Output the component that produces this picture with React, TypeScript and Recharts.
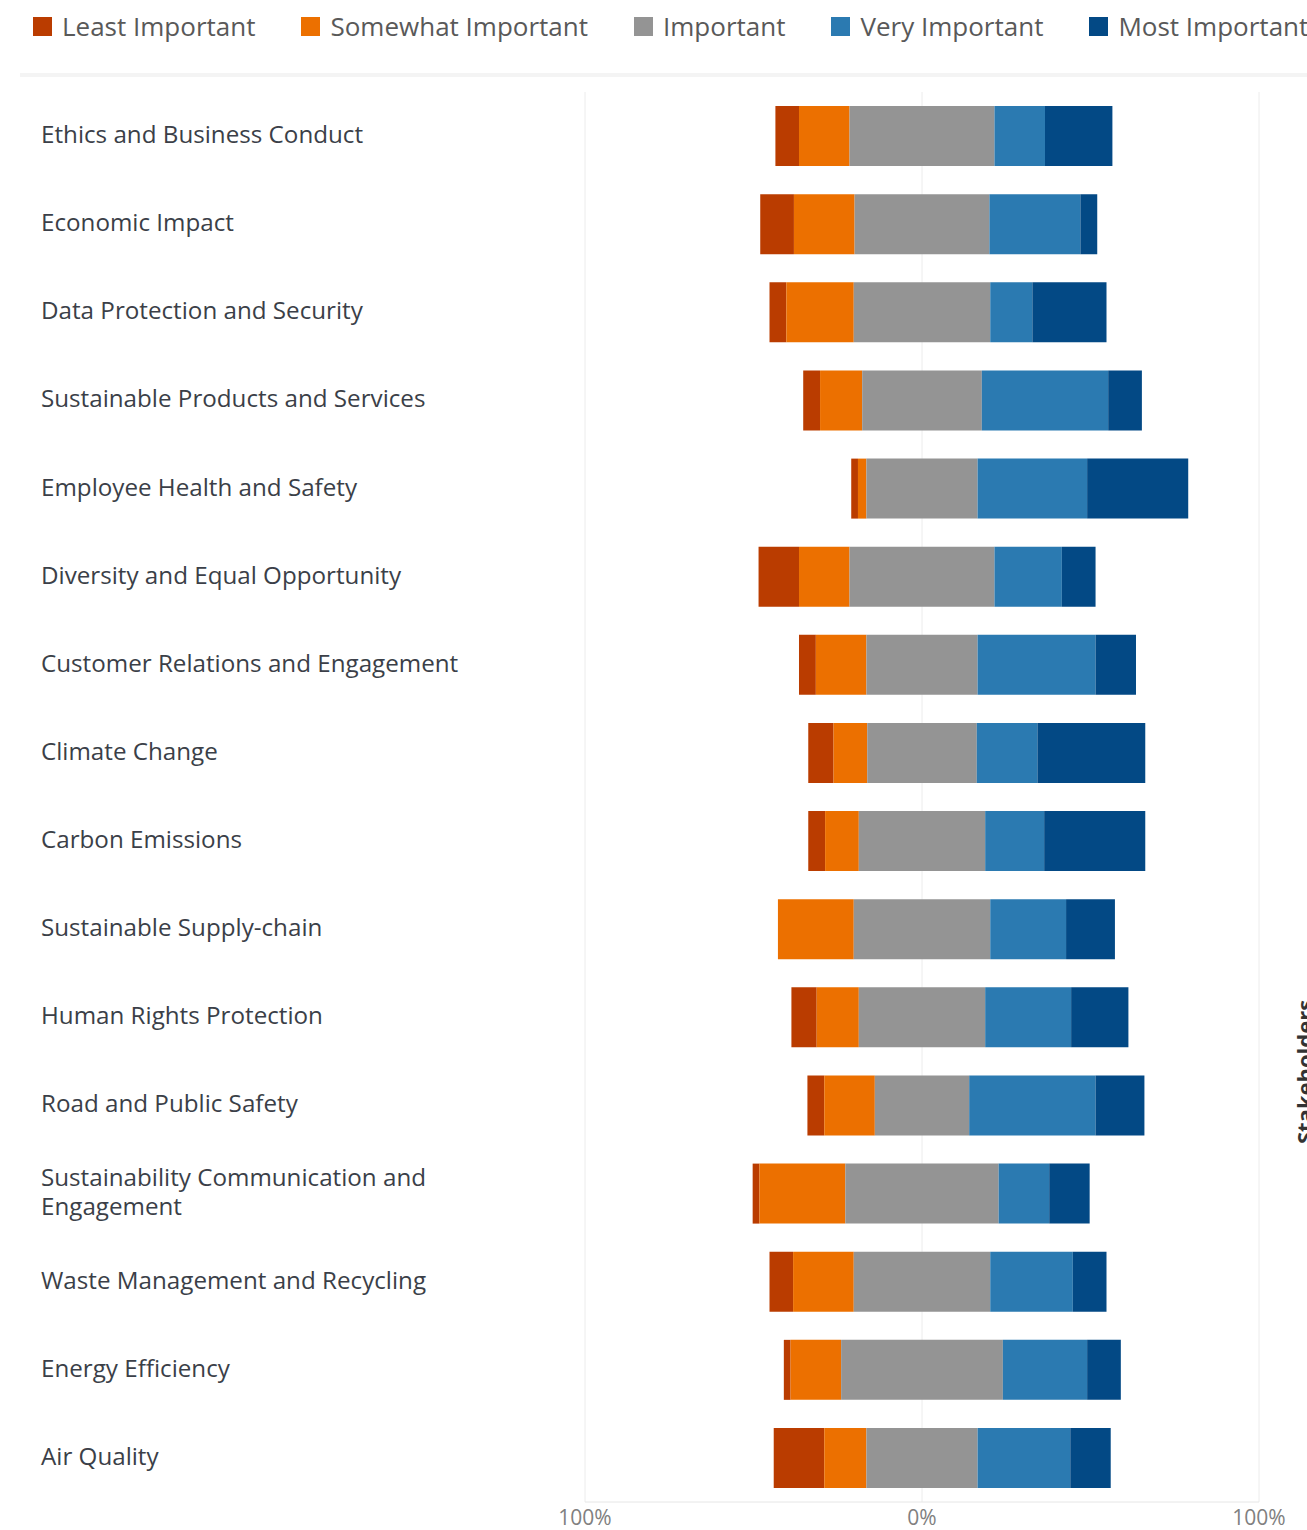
import { Bar, BarChart, CartesianGrid, Legend, XAxis, YAxis } from "recharts";

const FONT = "'Open Sans', 'Noto Sans', sans-serif";

const categories = [
  "Ethics and Business Conduct",
  "Economic Impact",
  "Data Protection and Security",
  "Sustainable Products and Services",
  "Employee Health and Safety",
  "Diversity and Equal Opportunity",
  "Customer Relations and Engagement",
  "Climate Change",
  "Carbon Emissions",
  "Sustainable Supply-chain",
  "Human Rights Protection",
  "Road and Public Safety",
  "Sustainability Communication and Engagement",
  "Waste Management and Recycling",
  "Energy Efficiency",
  "Air Quality",
];

// share of stakeholder answers per topic, in percent
const leastImportant = [7, 10, 5, 5, 2, 12, 5, 7.5, 5, 0, 7.5, 5, 2, 7, 2, 15];
const somewhatImportant = [15, 18, 20, 12.5, 2.5, 15, 15, 10, 10, 22.5, 12.5, 15, 25.5, 18, 15, 12.5];
const important = [43, 40, 40.5, 35.5, 33, 43, 33, 32.5, 37.5, 40.5, 37.5, 28, 45.5, 40.5, 48, 33];
const veryImportant = [15, 27, 12.5, 37.5, 32.5, 20, 35, 18, 17.5, 22.5, 25.5, 37.5, 15, 24.5, 25, 27.5];
const mostImportant = [20, 5, 22, 10, 30, 10, 12, 32, 30, 14.5, 17, 14.5, 12, 10, 10, 12];

const seriesKeys = ["least", "somewhat", "important", "very", "most"];
const seriesNames = ["Least Important", "Somewhat Important", "Important", "Very Important", "Most Important"];
const seriesColors = ["#BA3C00", "#EC7000", "#949494", "#2B7AB1", "#034985"];

const xTicks = [-100, 0, 100];

// "Important" is split around 0, so each bar starts at an invisible negative offset
const rows = categories.map((name, i) => ({
  name,
  offset: -(leastImportant[i] + somewhatImportant[i] + important[i] / 2),
  least: leastImportant[i],
  somewhat: somewhatImportant[i],
  important: important[i],
  very: veryImportant[i],
  most: mostImportant[i],
}));

// greedy word wrap for the long topic names
function wrapLabel(label: string, maxChars = 34) {
  const lines: string[] = [];
  let current = "";
  for (const word of label.split(" ")) {
    const next = current ? `${current} ${word}` : word;
    if (next.length > maxChars && current) {
      lines.push(current);
      current = word;
    } else {
      current = next;
    }
  }
  if (current) lines.push(current);
  return lines;
}

function LegendRow() {
  return (
    <div style={{ height: 77, boxSizing: "border-box", fontFamily: FONT }}>
      <div style={{ display: "flex", alignItems: "center", height: 52, paddingLeft: 33, gap: 46 }}>
        {seriesNames.map((label, i) => (
          <div key={label} style={{ display: "flex", alignItems: "center", whiteSpace: "nowrap" }}>
            <span style={{ width: 19, height: 19, background: seriesColors[i], marginRight: 10 }} />
            <span style={{ fontSize: 26, color: "#595959", lineHeight: "30px" }}>{label}</span>
          </div>
        ))}
      </div>
      <div style={{ marginLeft: 20, marginTop: 21, height: 4, background: "#f4f4f4" }} />
    </div>
  );
}

const LINE_HEIGHT = 29;

function CategoryTick({ y, payload }: any) {
  const lines = wrapLabel(payload.value);
  const firstDy = -((lines.length - 1) * LINE_HEIGHT) / 2 - 3;
  return (
    <text
      x={41}
      y={y}
      textAnchor="start"
      dominantBaseline="central"
      fill="#3b3f48"
      style={{ fontFamily: FONT, fontSize: 24.2 }}
    >
      {lines.map((line, i) => (
        <tspan key={line} x={41} dy={i === 0 ? firstDy : LINE_HEIGHT}>
          {line}
        </tspan>
      ))}
    </text>
  );
}

function StakeholdersLabel({ viewBox }: any) {
  const x = viewBox.x + viewBox.width + 6;
  const y = viewBox.y + viewBox.height * 0.695;
  return (
    <text
      x={x}
      y={y}
      transform={`rotate(-90, ${x}, ${y})`}
      textAnchor="middle"
      fill="#333"
      style={{ fontFamily: FONT, fontSize: 22, fontWeight: 700 }}
    >
      Stakeholders
    </text>
  );
}

export default function App() {
  return (
    <div style={{ position: "absolute", left: 0, top: 0, width: 1307, height: 1530, background: "#fff" }}>
      <BarChart
        width={1307}
        height={1530}
        data={rows}
        layout="vertical"
        barCategoryGap="16%"
        margin={{ top: 15, right: 0, bottom: 0, left: 0 }}
        style={{ fontFamily: FONT }}
      >
        <Legend
          verticalAlign="top"
          content={() => <LegendRow />}
          wrapperStyle={{ top: 0, left: 0, width: 1307 }}
        />
        <CartesianGrid horizontal={false} stroke="#ececec" />
        <XAxis
          type="number"
          domain={[-100, 100]}
          ticks={xTicks}
          tickFormatter={(v: number) => `${Math.abs(v)}%`}
          axisLine={{ stroke: "#e6e6e6" }}
          tickLine={false}
          tick={{ fill: "#808080", fontSize: 21 }}
          height={28}
        />
        <YAxis
          type="category"
          dataKey="name"
          width={585}
          axisLine={false}
          tickLine={false}
          tick={<CategoryTick />}
          interval={0}
        />
        <YAxis
          yAxisId="right"
          orientation="right"
          type="category"
          dataKey="name"
          width={48}
          axisLine={false}
          tickLine={false}
          tick={false}
          label={(props: any) => <StakeholdersLabel {...props} />}
        />
        <Bar dataKey="offset" stackId="s" fill="transparent" isAnimationActive={false} />
        {seriesKeys.map((key, i) => (
          <Bar
            key={key}
            dataKey={key}
            name={seriesNames[i]}
            stackId="s"
            fill={seriesColors[i]}
            isAnimationActive={false}
          />
        ))}
      </BarChart>
    </div>
  );
}
